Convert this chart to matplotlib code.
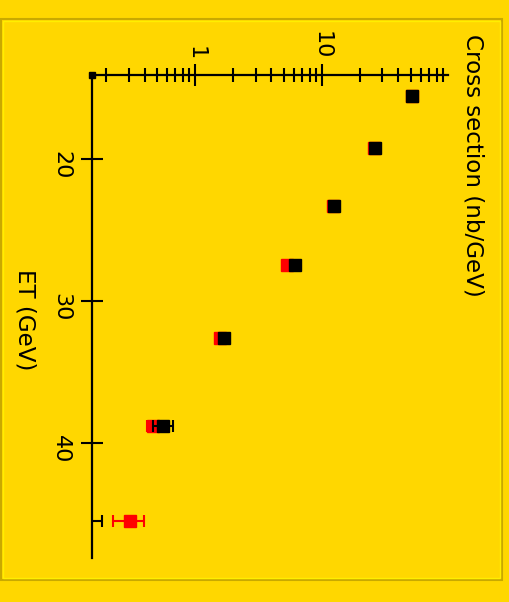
import matplotlib
matplotlib.use("Agg")
import matplotlib.pyplot as plt
from matplotlib.patches import Rectangle
from matplotlib.ticker import LogLocator, NullFormatter, FixedLocator, FixedFormatter

# ---- data ----
et = [15.56, 19.22, 23.31, 27.48, 32.62, 38.8, 45.55]
black_val = [51.6, 26.4, 12.5, 6.15, 1.69, 0.559, 0.12]
black_lo = [2.0, 1.0, 0.5, 0.25, 0.07, 0.095, 0.03]
black_hi = [2.0, 1.0, 0.5, 0.25, 0.07, 0.108, 0.065]
red_val = [51.0, 25.8, 12.2, 5.3, 1.57, 0.47, 0.307]
red_lo = [2.0, 1.0, 0.5, 0.22, 0.06, 0.055, 0.083]
red_hi = [2.0, 1.0, 0.5, 0.22, 0.06, 0.06, 0.092]
major_vals = [1, 10]
major_labels = ["1", "10"]
et_ticks = [20, 30, 40]
et_labels = ["20", "30", "40"]

W, H = 509, 602
GOLD = "#FFD700"
fig = plt.figure(figsize=(W / 100, H / 100), dpi=100, facecolor=GOLD)

# frame
fig.patches.append(Rectangle((1 / W, 1 - 580 / H), 501 / W, 561 / H, transform=fig.transFigure,
                             fill=False, edgecolor="#C9A900", linewidth=1.5))
fig.patches.append(Rectangle((3 / W, 1 - 578 / H), 497 / W, 557 / H, transform=fig.transFigure,
                             fill=False, edgecolor="#FFEE00", linewidth=1.0))

x0, x1 = 92, 448
y0, y1 = 75, 558
ax = fig.add_axes([x0 / W, 1 - y1 / H, (x1 - x0) / W, (y1 - y0) / H])
ax.set_facecolor("none")
ax.set_xscale("log")
ax.set_xlim(0.154, 98.5)
ax.set_ylim(48.13, 14.08)

for s in ["right", "bottom"]:
    ax.spines[s].set_visible(False)
for s in ["top", "left"]:
    ax.spines[s].set_linewidth(1.6)
    ax.spines[s].set_color("black")

ax.xaxis.tick_top()
ax.xaxis.set_major_locator(FixedLocator(major_vals))
ax.xaxis.set_major_formatter(FixedFormatter(major_labels))
ax.xaxis.set_minor_locator(LogLocator(base=10, subs=[2, 3, 4, 5, 6, 7, 8, 9]))
ax.xaxis.set_minor_formatter(NullFormatter())
ax.tick_params(axis="x", which="major", direction="inout", length=16, width=1.5,
               labelrotation=-90, labelsize=16, pad=3)
ax.tick_params(axis="x", which="minor", direction="inout", length=10, width=1.5)

ax.yaxis.set_major_locator(FixedLocator(et_ticks))
ax.yaxis.set_major_formatter(FixedFormatter(et_labels))
ax.tick_params(axis="y", which="major", direction="inout", length=16, width=1.5,
               labelrotation=-90, labelsize=16, pad=7)

ax.errorbar(red_val, et, xerr=[red_lo, red_hi], fmt="s", color="red", ms=8,
            capsize=4, elinewidth=1.5, capthick=1.5, zorder=3)
ax.errorbar(black_val, et, xerr=[black_lo, black_hi], fmt="s", color="black", ms=8,
            capsize=4, elinewidth=1.5, capthick=1.5, zorder=4)

# origin marker
ax.plot([0.154], [14.08], marker="s", color="black", ms=4, clip_on=False, zorder=5)

fig.text(473 / W, 1 - 34 / H, "Cross section (nb/GeV)", rotation=-90, ha="center", va="top",
         fontsize=16.6, color="black")
fig.text(25 / W, 1 - 320 / H, "ET (GeV)", rotation=-90, ha="center", va="center",
         fontsize=16.6, color="black")

fig.savefig("out.png", dpi=100, facecolor=GOLD)
